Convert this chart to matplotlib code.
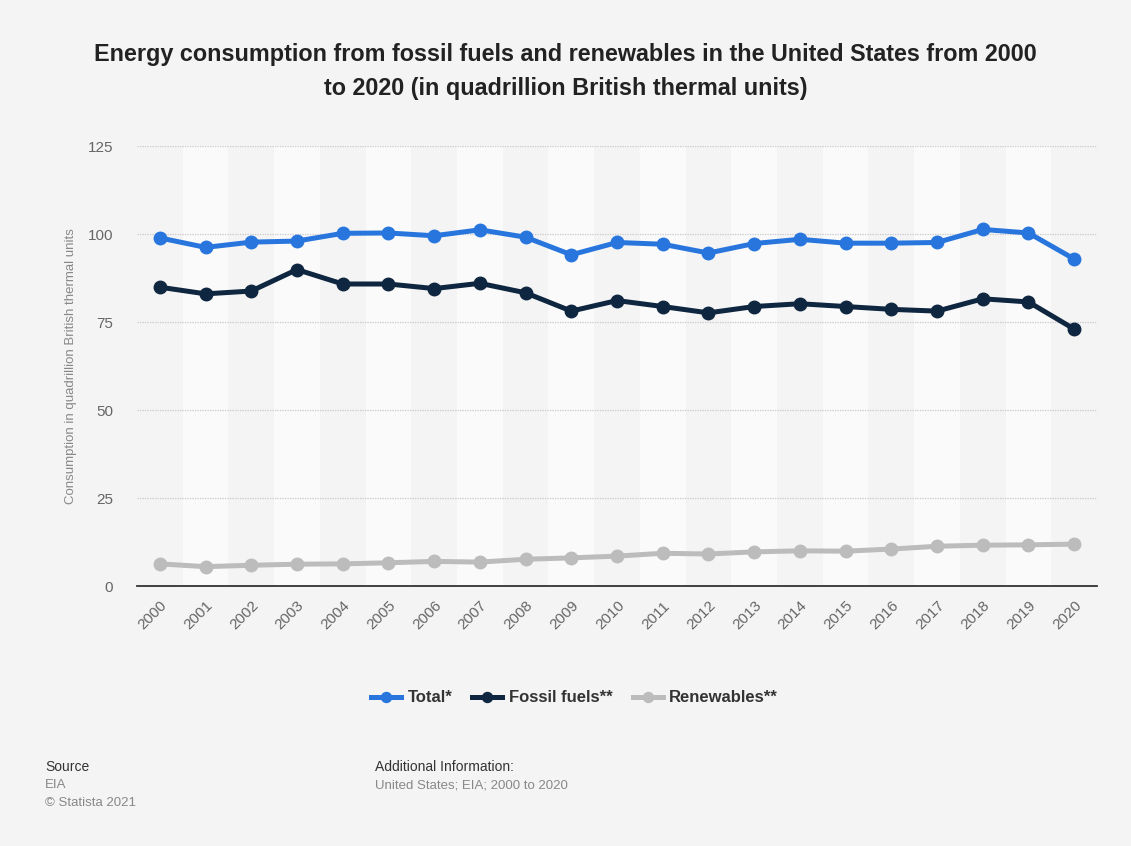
import matplotlib.pyplot as plt

years = [str(y) for y in range(2000, 2021)]
total = [98.9, 96.2, 97.7, 98.0, 100.2, 100.3, 99.5, 101.2, 99.1, 94.1, 97.6,
         97.1, 94.6, 97.3, 98.5, 97.4, 97.4, 97.6, 101.3, 100.3, 92.9]
fossil = [84.9, 83.0, 83.8, 89.9, 85.8, 85.8, 84.5, 86.0, 83.3, 78.1, 81.1,
          79.4, 77.6, 79.4, 80.2, 79.4, 78.6, 78.1, 81.6, 80.7, 73.0]
renewables = [6.3, 5.5, 5.9, 6.2, 6.3, 6.6, 7.0, 6.8, 7.6, 8.0, 8.5,
              9.3, 9.1, 9.7, 10.0, 9.9, 10.5, 11.3, 11.6, 11.7, 11.9]
series = [("Total*", total, "#2876dd"),
          ("Fossil fuels**", fossil, "#0f2640"),
          ("Renewables**", renewables, "#bcbcbc")]

plt.rcParams['font.family'] = ['Liberation Sans', 'DejaVu Sans']

fig = plt.figure(figsize=(11.31, 8.46), dpi=100, facecolor="#f4f4f4")
ax = fig.add_axes([0.1211, 0.3073, 0.8489, 0.5201])
ax.set_facecolor("#f4f4f4")

x = list(range(len(years)))
for i in x:
    if i % 2 == 1:
        ax.axvspan(i - 0.5, i + 0.5, color="#fafafa", zorder=0, lw=0)

for label, vals, col in series:
    ax.plot(x, vals, color=col, lw=3.6, marker="o", markersize=9,
            label=label, zorder=3, solid_joinstyle="round")

ax.set_xlim(-0.5, len(years) - 0.5)
ax.set_ylim(0, 125)
ax.set_yticks([0, 25, 50, 75, 100, 125])
ax.yaxis.grid(True, linestyle=(0, (1, 1)), color="#c8c8c8", lw=0.9, zorder=1)
ax.set_axisbelow(True)
for s in ["top", "right", "left"]:
    ax.spines[s].set_visible(False)
ax.spines["bottom"].set_color("#333333")
ax.spines["bottom"].set_linewidth(1.3)
ax.spines["bottom"].set_zorder(4)

ax.set_xticks(x)
ax.set_xticklabels(years, rotation=45, ha="right", rotation_mode="anchor")
ax.tick_params(axis="both", length=0, labelsize=11, labelcolor="#666666")
ax.tick_params(axis="x", pad=9)
ax.tick_params(axis="y", pad=17)
ax.set_ylabel("Consumption in quadrillion British thermal units",
              fontsize=9.5, color="#888888", labelpad=8)

fig.text(0.5, 0.936, "Energy consumption from fossil fuels and renewables in the United States from 2000",
         ha="center", va="center", fontsize=16.8, fontweight="bold", color="#222222")
fig.text(0.5, 0.895, "to 2020 (in quadrillion British thermal units)",
         ha="center", va="center", fontsize=16.8, fontweight="bold", color="#222222")

leg = fig.legend(loc="center", bbox_to_anchor=(0.508, 0.175), ncol=3, frameon=False,
                 fontsize=12, handlelength=1.8, columnspacing=1.2, handletextpad=0.4,
                 markerscale=0.8)
for t in leg.get_texts():
    t.set_fontweight("bold")
    t.set_color("#333333")

fig.text(0.040, 0.093, "Source", fontsize=10, color="#333333", va="center")
fig.text(0.040, 0.072, "EIA", fontsize=9.5, color="#888888", va="center")
fig.text(0.040, 0.051, "\u00a9 Statista 2021", fontsize=9.5, color="#888888", va="center")
fig.text(0.332, 0.093, "Additional Information:", fontsize=10, color="#333333", va="center")
fig.text(0.332, 0.072, "United States; EIA; 2000 to 2020", fontsize=9.5, color="#888888", va="center")

fig.savefig("out.png", dpi=100, facecolor=fig.get_facecolor())
